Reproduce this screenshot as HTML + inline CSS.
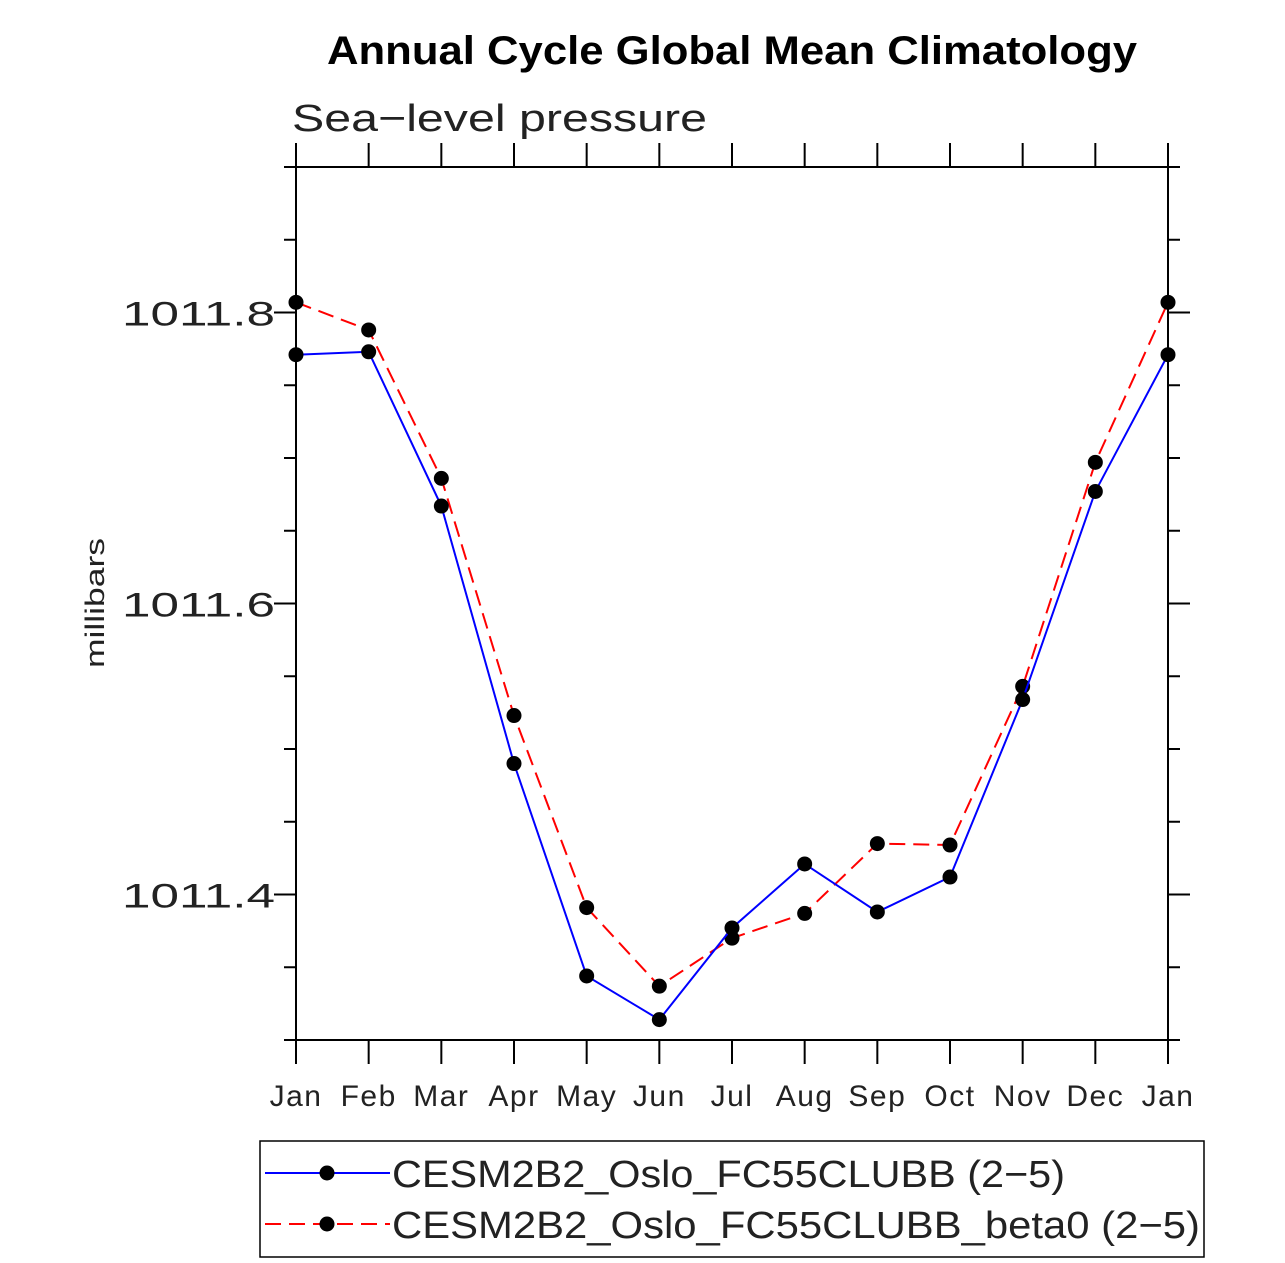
<!DOCTYPE html>
<html><head><meta charset="utf-8"><style>
html,body{margin:0;padding:0;background:#fff;}
svg{display:block;font-family:"Liberation Sans",sans-serif;}
</style></head><body>
<svg id="chart" width="1285" height="1263" viewBox="0 0 1285 1263">
<text x="327" y="64" textLength="810" lengthAdjust="spacingAndGlyphs" font-size="40" font-weight="bold">Annual Cycle Global Mean Climatology</text>
<text x="292" y="131" textLength="415" lengthAdjust="spacingAndGlyphs" font-size="38" fill="#222">Sea−level pressure</text>
<text transform="translate(104,603) rotate(-90)" text-anchor="middle" textLength="130" lengthAdjust="spacingAndGlyphs" font-size="27" fill="#222">millibars</text>
<g id="axes"></g>
<g id="series"></g>
<rect x="260" y="1141" width="944" height="116" fill="none" stroke="#000" stroke-width="1.5"/>
<g id="legend"></g>
</svg>
<script>
const months = ["Jan","Feb","Mar","Apr","May","Jun","Jul","Aug","Sep","Oct","Nov","Dec","Jan"];
const blueValues = [1011.771,1011.773,1011.667,1011.490,1011.344,1011.314,1011.377,1011.421,1011.388,1011.412,1011.534,1011.677,1011.771];
const redValues = [1011.807,1011.788,1011.686,1011.523,1011.391,1011.337,1011.370,1011.387,1011.435,1011.434,1011.543,1011.697,1011.807];
const yTickLabels = ["1011.4","1011.6","1011.8"];
const seriesNames = ["CESM2B2_Oslo_FC55CLUBB (2−5)","CESM2B2_Oslo_FC55CLUBB_beta0 (2−5)"];
const NS="http://www.w3.org/2000/svg";
const L=296,R=1168,T=167,B=1040,yMin=1011.3,yMax=1011.9;
const xs=i=>L+(R-L)*i/(months.length-1);
const ys=v=>B-(v-yMin)/(yMax-yMin)*(B-T);
function mk(tag,attrs,parent){const e=document.createElementNS(NS,tag);for(const k in attrs)e.setAttribute(k,attrs[k]);parent.appendChild(e);return e;}
const ax=document.getElementById('axes');
const frame=mk('rect',{x:L,y:T,width:R-L,height:B-T,fill:'none',stroke:'#000','stroke-width':2},ax);


months.forEach((m,i)=>{
  const x=xs(i);
  mk('line',{x1:x,x2:x,y1:B,y2:B+24,stroke:'#000','stroke-width':2},ax);
  mk('line',{x1:x,x2:x,y1:T,y2:T-24,stroke:'#000','stroke-width':2},ax);
  const t=mk('text',{x:x,y:1106,'text-anchor':'middle','font-size':30,fill:'#222','letter-spacing':1.5},ax);
  t.textContent=m;
  
  
});
for(let k=0;k<=12;k++){
  const v=yMin+k*0.05,y=ys(v),major=(k%4===2);
  const len=major?22:12;
  mk('line',{x1:L,x2:L-len,y1:y,y2:y,stroke:'#000','stroke-width':2},ax);
  mk('line',{x1:R,x2:R+len,y1:y,y2:y,stroke:'#000','stroke-width':2},ax);
}
yTickLabels.forEach(s=>{
  const t=mk('text',{x:122,y:ys(parseFloat(s))+13,'font-size':34,fill:'#222',textLength:153,lengthAdjust:'spacingAndGlyphs'},ax);
  t.textContent=s;
  
  
});
const sg=document.getElementById('series');
function drawSeries(vals,color,dash,name){
  const pts=vals.map((v,i)=>xs(i)+','+ys(v)).join(' ');
  const pl=mk('polyline',{points:pts,fill:'none',stroke:color,'stroke-width':2,'stroke-dasharray':dash},sg);
  
  
  vals.forEach((v,i)=>{
    const c=mk('circle',{cx:xs(i),cy:ys(v),r:7.5,fill:'#000'},sg);
    
    
  });
}
drawSeries(redValues,'#f00','16 8','beta0-series');
drawSeries(blueValues,'#00f','none','clubb-series');
const lg=document.getElementById('legend');
const legendWidths=[673,808];
[[1173,'#00f','none'],[1224,'#f00','16 8']].forEach((d,i)=>{
  mk('line',{x1:265,x2:390,y1:d[0],y2:d[0],stroke:d[1],'stroke-width':2,'stroke-dasharray':d[2]},lg);
  mk('circle',{cx:327,cy:d[0],r:7.5,fill:'#000'},lg);
  const t=mk('text',{x:392,y:d[0]+14,'font-size':38,fill:'#222',textLength:legendWidths[i],lengthAdjust:'spacingAndGlyphs'},lg);
  t.textContent=seriesNames[i];
  
  
});
</script>
</body></html>
